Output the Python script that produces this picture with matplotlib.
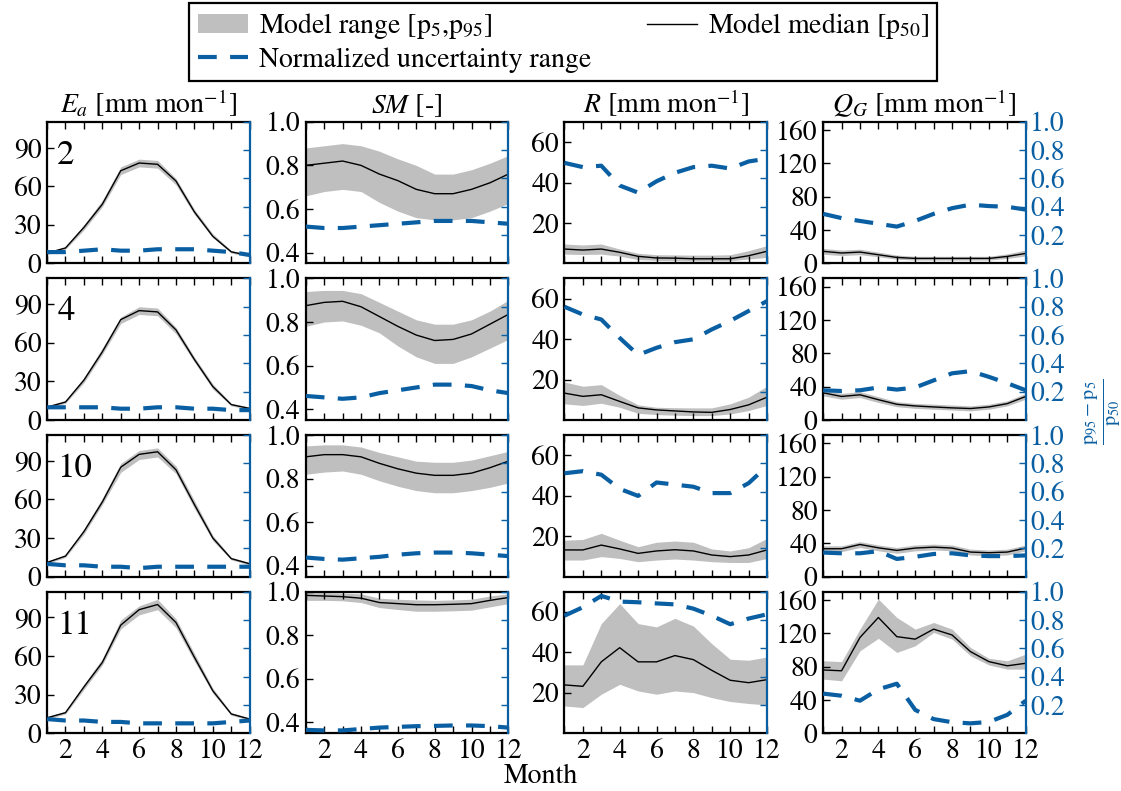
import matplotlib
matplotlib.use("Agg")
import matplotlib.pyplot as plt
from matplotlib.patches import Patch
from matplotlib.lines import Line2D

plt.rcParams['font.family'] = ['STIXGeneral', 'Liberation Serif', 'DejaVu Serif']
plt.rcParams['mathtext.fontset'] = 'stix'
plt.rcParams['font.size'] = 20

months = list(range(1, 13))
basins = ['2', '4', '10', '11']

# Ea [mm/mon]
ea_med = [[8, 12, 28, 46, 72, 78, 77, 64, 40, 21, 9, 6],
          [10, 14, 31, 53, 78, 85, 84, 70, 47, 26, 12, 9],
          [11, 16, 35, 58, 85, 95, 97, 83, 56, 30, 14, 10],
          [12, 16, 36, 55, 84, 96, 100, 86, 59, 33, 15, 11]]
ea_hi = [[9, 13, 30, 49, 75, 81, 80, 66, 42, 23, 10, 7],
         [11, 15, 33, 56, 80, 88, 87, 72, 49, 28, 13, 10],
         [12, 17, 37, 61, 88, 98, 100, 86, 59, 32, 15, 11],
         [13, 17, 38, 58, 88, 99, 104, 89, 62, 35, 16, 12]]
ea_lo = [[7, 11, 26, 44, 69, 75, 74, 61, 38, 20, 8, 5],
         [9, 13, 29, 51, 75, 82, 81, 67, 45, 24, 11, 8],
         [10, 15, 33, 56, 81, 91, 93, 80, 53, 28, 13, 9],
         [11, 15, 34, 53, 81, 92, 96, 82, 56, 31, 14, 10]]
ea_unc = [[0.08, 0.08, 0.09, 0.10, 0.09, 0.09, 0.10, 0.10, 0.10, 0.09, 0.08, 0.06],
          [0.09, 0.09, 0.09, 0.09, 0.08, 0.08, 0.09, 0.09, 0.08, 0.08, 0.07, 0.07],
          [0.09, 0.08, 0.08, 0.07, 0.07, 0.06, 0.07, 0.07, 0.07, 0.07, 0.07, 0.07],
          [0.10, 0.09, 0.09, 0.08, 0.08, 0.07, 0.07, 0.07, 0.07, 0.07, 0.08, 0.09]]

# SM [-]
sm_med = [[0.80, 0.81, 0.82, 0.80, 0.76, 0.73, 0.69, 0.67, 0.67, 0.69, 0.72, 0.76],
          [0.875, 0.89, 0.895, 0.87, 0.825, 0.78, 0.74, 0.715, 0.72, 0.745, 0.79, 0.835],
          [0.90, 0.91, 0.91, 0.90, 0.87, 0.845, 0.825, 0.815, 0.815, 0.825, 0.85, 0.88],
          [0.983, 0.98, 0.977, 0.97, 0.95, 0.945, 0.94, 0.94, 0.942, 0.945, 0.96, 0.973]]
sm_hi = [[0.88, 0.89, 0.90, 0.89, 0.865, 0.83, 0.80, 0.76, 0.76, 0.78, 0.81, 0.845],
         [0.94, 0.945, 0.945, 0.93, 0.89, 0.85, 0.81, 0.79, 0.79, 0.81, 0.85, 0.90],
         [0.95, 0.955, 0.955, 0.945, 0.92, 0.90, 0.88, 0.875, 0.875, 0.885, 0.905, 0.925],
         [0.995, 0.995, 0.993, 0.99, 0.97, 0.965, 0.962, 0.96, 0.962, 0.965, 0.98, 0.99]]
sm_lo = [[0.66, 0.68, 0.69, 0.68, 0.63, 0.59, 0.56, 0.55, 0.55, 0.56, 0.59, 0.625],
         [0.78, 0.80, 0.805, 0.785, 0.75, 0.69, 0.64, 0.61, 0.61, 0.64, 0.68, 0.72],
         [0.82, 0.83, 0.835, 0.82, 0.79, 0.765, 0.745, 0.735, 0.735, 0.745, 0.76, 0.78],
         [0.96, 0.96, 0.958, 0.95, 0.927, 0.918, 0.91, 0.91, 0.912, 0.915, 0.93, 0.945]]
sm_unc = [[0.26, 0.25, 0.25, 0.26, 0.27, 0.28, 0.29, 0.30, 0.30, 0.30, 0.29, 0.28],
          [0.17, 0.16, 0.15, 0.16, 0.19, 0.21, 0.23, 0.25, 0.25, 0.24, 0.21, 0.19],
          [0.135, 0.125, 0.12, 0.13, 0.14, 0.155, 0.165, 0.17, 0.17, 0.165, 0.155, 0.145],
          [0.024, 0.02, 0.02, 0.03, 0.04, 0.045, 0.05, 0.052, 0.055, 0.055, 0.05, 0.04]]

# R [mm/mon]
r_med = [[7.1, 6.6, 7.1, 5.5, 3.5, 2.7, 2.6, 2.3, 2.3, 2.3, 3.8, 6.0],
         [13.3, 11.7, 12.5, 9.2, 6.0, 5.0, 4.5, 4.0, 3.8, 5.2, 7.5, 11.3],
         [13.2, 13.2, 15.6, 13.7, 11.5, 12.7, 13.3, 12.7, 10.7, 9.9, 10.7, 13.2],
         [23.9, 23.2, 35.3, 42.3, 35.3, 35.3, 38.4, 36.4, 31.1, 26.2, 25.0, 26.5]]
r_hi = [[9.6, 9.1, 9.6, 7.1, 5.0, 4.3, 4.2, 4.1, 4.1, 4.3, 6.3, 8.8],
        [18.8, 16.7, 17.5, 12.2, 7.5, 6.3, 6.1, 6.0, 6.0, 8.0, 11.3, 16.7],
        [18.0, 18.4, 21.4, 18.0, 14.8, 17.0, 17.6, 17.0, 13.7, 12.7, 14.3, 18.9],
        [33.8, 33.8, 54.2, 64.1, 54.2, 52.6, 56.8, 53.0, 44.3, 36.6, 36.1, 37.7]]
r_lo = [[4.6, 4.4, 4.6, 3.6, 1.9, 1.5, 1.4, 1.3, 1.3, 1.3, 2.2, 3.0],
        [8.0, 7.2, 8.3, 6.3, 3.3, 2.7, 2.4, 2.2, 2.2, 3.0, 4.7, 7.2],
        [8.2, 8.2, 9.9, 9.0, 7.4, 8.2, 8.7, 8.2, 7.4, 7.0, 7.0, 9.0],
        [13.5, 12.7, 19.3, 24.2, 20.9, 19.3, 20.9, 20.1, 17.6, 15.7, 14.7, 14.0]]
r_unc = [[0.71, 0.68, 0.69, 0.55, 0.50, 0.58, 0.64, 0.68, 0.69, 0.67, 0.72, 0.74],
         [0.80, 0.745, 0.71, 0.58, 0.46, 0.51, 0.55, 0.57, 0.64, 0.70, 0.77, 0.84],
         [0.73, 0.745, 0.72, 0.62, 0.57, 0.665, 0.65, 0.635, 0.59, 0.59, 0.66, 0.78],
         [0.83, 0.89, 0.97, 0.93, 0.925, 0.917, 0.91, 0.88, 0.83, 0.77, 0.81, 0.84]]

# QG [mm/mon]
qg_med = [[14.5, 12.5, 13.6, 10.4, 7.2, 6.0, 6.0, 6.0, 6.0, 6.0, 8.4, 12.0],
          [32.7, 28.3, 30.3, 24.4, 18.9, 16.9, 15.7, 14.6, 13.8, 15.7, 19.7, 28.3],
          [33.5, 33.5, 38.6, 34.6, 31.5, 34.3, 35.4, 34.3, 29.5, 28.7, 29.5, 34.3],
          [76, 75, 115, 139, 116, 113, 125, 118, 98, 86, 81, 84]]
qg_hi = [[18, 16, 17, 13.5, 10, 8.5, 8.5, 8.5, 8.5, 8.5, 11.5, 16],
         [36, 32, 34, 28, 22, 20, 19, 18, 17, 19, 23, 32],
         [37, 37, 42, 38, 35, 38, 39, 38, 33, 32, 33, 38],
         [87, 86, 125, 161, 139, 125, 133, 125, 103, 90, 87, 95]]
qg_lo = [[11, 9.5, 10.5, 8, 5, 4, 4, 4, 4, 4, 6, 9],
         [29, 25, 27, 21, 16, 14, 13, 12, 11, 13, 17, 25],
         [30, 30, 35, 31, 28, 31, 32, 31, 26, 25, 26, 31],
         [65, 63, 99, 114, 97, 105, 121, 113, 93, 82, 77, 77]]
qg_unc = [[0.35, 0.32, 0.30, 0.28, 0.26, 0.30, 0.35, 0.39, 0.415, 0.405, 0.40, 0.38],
          [0.21, 0.205, 0.21, 0.23, 0.215, 0.23, 0.28, 0.33, 0.345, 0.305, 0.26, 0.21],
          [0.17, 0.165, 0.165, 0.18, 0.125, 0.14, 0.16, 0.165, 0.15, 0.145, 0.145, 0.15],
          [0.28, 0.265, 0.23, 0.31, 0.35, 0.165, 0.10, 0.078, 0.07, 0.08, 0.13, 0.23]]

titles = [r'$E_a$ [mm mon$^{-1}$]', r'$SM$ [-]', r'$R$ [mm mon$^{-1}$]', r'$Q_G$ [mm mon$^{-1}$]']
ylims = [(0, 110), (0.35, 1.0), (0, 70), (0, 170)]
yticks = [[0, 30, 60, 90], [0.4, 0.6, 0.8, 1.0], [20, 40, 60], [0, 40, 80, 120, 160]]
ytick_fmt = ['{:.0f}', '{:.1f}', '{:.0f}', '{:.0f}']

meds = [ea_med, sm_med, r_med, qg_med]
his = [ea_hi, sm_hi, r_hi, qg_hi]
los = [ea_lo, sm_lo, r_lo, qg_lo]
uncs = [ea_unc, sm_unc, r_unc, qg_unc]

blue = '#0a5fa3'
gray = '#bfbfbf'

fig, axes = plt.subplots(4, 4, figsize=(11.21, 7.91), dpi=100)
fig.subplots_adjust(left=0.042, right=0.915, top=0.846, bottom=0.073,
                    wspace=0.277, hspace=0.106)

for i in range(4):
    for j in range(4):
        ax = axes[i, j]
        ax.fill_between(months, los[j][i], his[j][i], color=gray, lw=0)
        ax.plot(months, meds[j][i], color='k', lw=1)
        ax.set_xlim(1, 12)
        ax.set_ylim(*ylims[j])
        ax.set_yticks(yticks[j])
        ax.set_yticklabels([ytick_fmt[j].format(t) for t in yticks[j]])
        ax.set_xticks(months)
        if i == 3:
            ax.set_xticklabels([str(m) if m % 2 == 0 else '' for m in months])
        else:
            ax.set_xticklabels([])
        ax.tick_params(direction='in', length=5, width=1, top=True, right=False,
                       pad=4, labelsize=20)
        for s in ['left', 'top', 'bottom']:
            ax.spines[s].set_linewidth(1.6)
        ax.spines['right'].set_visible(False)

        tw = ax.twinx()
        tw.plot(months, uncs[j][i], color=blue, lw=3, dashes=(4.5, 3.2))
        tw.set_ylim(0, 1)
        tw.set_yticks([0.2, 0.4, 0.6, 0.8, 1.0])
        tw.set_xlim(1, 12)
        for s in ['left', 'top', 'bottom']:
            tw.spines[s].set_visible(False)
        tw.spines['right'].set_color(blue)
        tw.spines['right'].set_linewidth(1.6)
        tw.tick_params(axis='y', direction='in', length=5, width=1, colors=blue,
                       pad=3, labelsize=20)
        if j != 3:
            tw.set_yticklabels([])

        if i == 0:
            ax.set_title(titles[j], fontsize=20, pad=6)
        if j == 0:
            ax.text(0.05, 0.76, basins[i], transform=ax.transAxes, fontsize=25,
                    ha='left', va='center')

handles = [Patch(facecolor=gray, edgecolor='none'),
           Line2D([], [], color=blue, lw=3, dashes=(4.5, 3.2)),
           Line2D([], [], color='k', lw=1)]
labels = [r'Model range [p$_5$,p$_{95}$]', 'Normalized uncertainty range',
          r'Model median [p$_{50}$]']
leg = fig.legend(handles, labels, ncol=2, loc='upper left', mode='expand',
                 bbox_to_anchor=(0.169, 0.75, 0.667, 0.246), fontsize=20,
                 frameon=True, fancybox=False, edgecolor='k', framealpha=1,
                 borderpad=0.3, labelspacing=0.2, handletextpad=0.4,
                 handlelength=1.8, borderaxespad=0)
leg.get_frame().set_linewidth(1.6)

fig.text(0.482, 0.019, 'Month', ha='center', va='center', fontsize=20)
fig.text(0.984, 0.479, r'$\frac{\mathrm{p}_{95}-\mathrm{p}_{5}}{\mathrm{p}_{50}}$',
         rotation=90, ha='center', va='center', color=blue, fontsize=21)

fig.savefig('out.png', dpi=100)
